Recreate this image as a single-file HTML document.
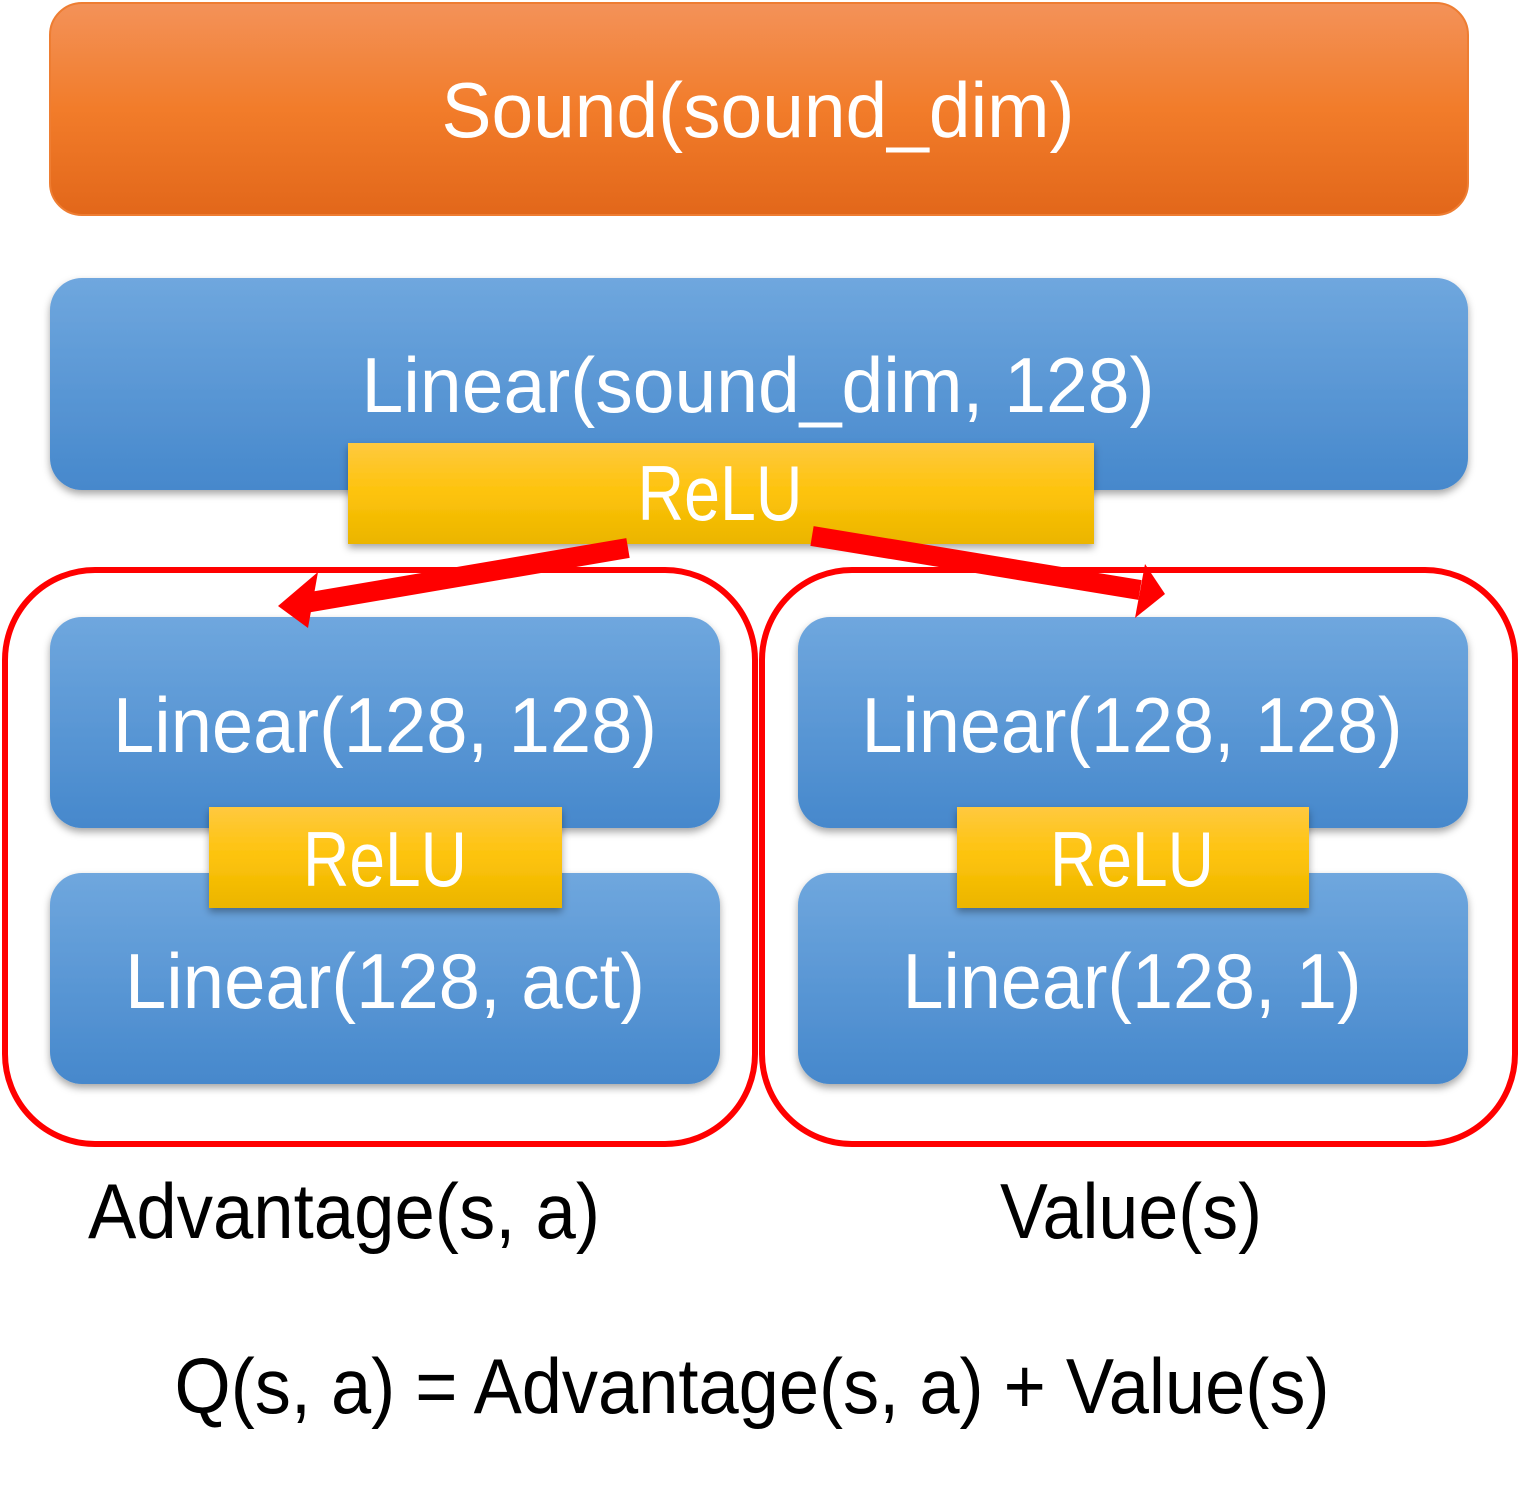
<!DOCTYPE html>
<html><head><meta charset="utf-8"><style>html,body{margin:0;padding:0;background:#fff}</style></head>
<body>
<svg width="1521" height="1485" viewBox="0 0 1521 1485" xmlns="http://www.w3.org/2000/svg" font-family="'Liberation Sans', sans-serif">
<defs>
<linearGradient id="og" x1="0" y1="0" x2="0" y2="1"><stop offset="0" stop-color="#f39259"/><stop offset="0.5" stop-color="#f27c2a"/><stop offset="1" stop-color="#e2671a"/></linearGradient>
<linearGradient id="bg" x1="0" y1="0" x2="0" y2="1"><stop offset="0" stop-color="#6fa7de"/><stop offset="1" stop-color="#4688cc"/></linearGradient>
<linearGradient id="yg" x1="0" y1="0" x2="0" y2="1"><stop offset="0" stop-color="#ffc93f"/><stop offset="0.5" stop-color="#fdc30a"/><stop offset="1" stop-color="#ebb500"/></linearGradient>
<filter id="sh" x="-5%" y="-5%" width="110%" height="120%"><feDropShadow dx="0" dy="4" stdDeviation="4" flood-color="#000" flood-opacity="0.35"/></filter>
</defs>
<rect x="50" y="3" width="1418" height="212" rx="32" fill="url(#og)" stroke="#ee7d32" stroke-width="2"/>
<text x="758" y="137" font-size="78" fill="#fff" text-anchor="middle" textLength="633" lengthAdjust="spacingAndGlyphs">Sound(sound_dim)</text>

<rect x="5" y="570" width="750" height="574" rx="90" fill="none" stroke="#f00" stroke-width="6"/>
<rect x="762" y="570" width="753" height="574" rx="90" fill="none" stroke="#f00" stroke-width="6"/>

<rect x="50" y="278" width="1418" height="212" rx="32" fill="url(#bg)" filter="url(#sh)"/>
<text x="758" y="412" font-size="78" fill="#fff" text-anchor="middle" textLength="793" lengthAdjust="spacingAndGlyphs">Linear(sound_dim, 128)</text>
<rect x="348" y="443" width="746" height="101" fill="url(#yg)" filter="url(#sh)"/>
<text x="720" y="520" font-size="78" fill="#fff" text-anchor="middle" textLength="165" lengthAdjust="spacingAndGlyphs">ReLU</text>

<rect x="50" y="617" width="670" height="211" rx="32" fill="url(#bg)" filter="url(#sh)"/>
<rect x="50" y="873" width="670" height="211" rx="32" fill="url(#bg)" filter="url(#sh)"/>
<text x="385" y="752" font-size="78" fill="#fff" text-anchor="middle" textLength="544" lengthAdjust="spacingAndGlyphs">Linear(128, 128)</text>
<rect x="209" y="807" width="353" height="101" fill="url(#yg)" filter="url(#sh)"/>
<text x="385" y="886" font-size="78" fill="#fff" text-anchor="middle" textLength="164" lengthAdjust="spacingAndGlyphs">ReLU</text>
<text x="385" y="1008" font-size="78" fill="#fff" text-anchor="middle" textLength="520" lengthAdjust="spacingAndGlyphs">Linear(128, act)</text>

<rect x="798" y="617" width="670" height="211" rx="32" fill="url(#bg)" filter="url(#sh)"/>
<rect x="798" y="873" width="670" height="211" rx="32" fill="url(#bg)" filter="url(#sh)"/>
<text x="1132" y="752" font-size="78" fill="#fff" text-anchor="middle" textLength="541" lengthAdjust="spacingAndGlyphs">Linear(128, 128)</text>
<rect x="957" y="807" width="352" height="101" fill="url(#yg)" filter="url(#sh)"/>
<text x="1132" y="886" font-size="78" fill="#fff" text-anchor="middle" textLength="164" lengthAdjust="spacingAndGlyphs">ReLU</text>
<text x="1132" y="1008" font-size="78" fill="#fff" text-anchor="middle" textLength="459" lengthAdjust="spacingAndGlyphs">Linear(128, 1)</text>

<line x1="628" y1="548" x2="305" y2="603" stroke="#f00" stroke-width="20"/>
<polygon points="278,606 318,572 308,628" fill="#f00"/>
<line x1="812" y1="536" x2="1140" y2="590" stroke="#f00" stroke-width="20"/>
<polygon points="1165,594 1135,618 1145,564" fill="#f00"/>

<text x="344" y="1238" font-size="78" fill="#000" text-anchor="middle" textLength="512" lengthAdjust="spacingAndGlyphs">Advantage(s, a)</text>
<text x="1131" y="1238" font-size="78" fill="#000" text-anchor="middle" textLength="262" lengthAdjust="spacingAndGlyphs">Value(s)</text>
<text x="752" y="1413" font-size="78" fill="#000" text-anchor="middle" textLength="1155" lengthAdjust="spacingAndGlyphs">Q(s, a) = Advantage(s, a) + Value(s)</text>
</svg>
</body></html>
